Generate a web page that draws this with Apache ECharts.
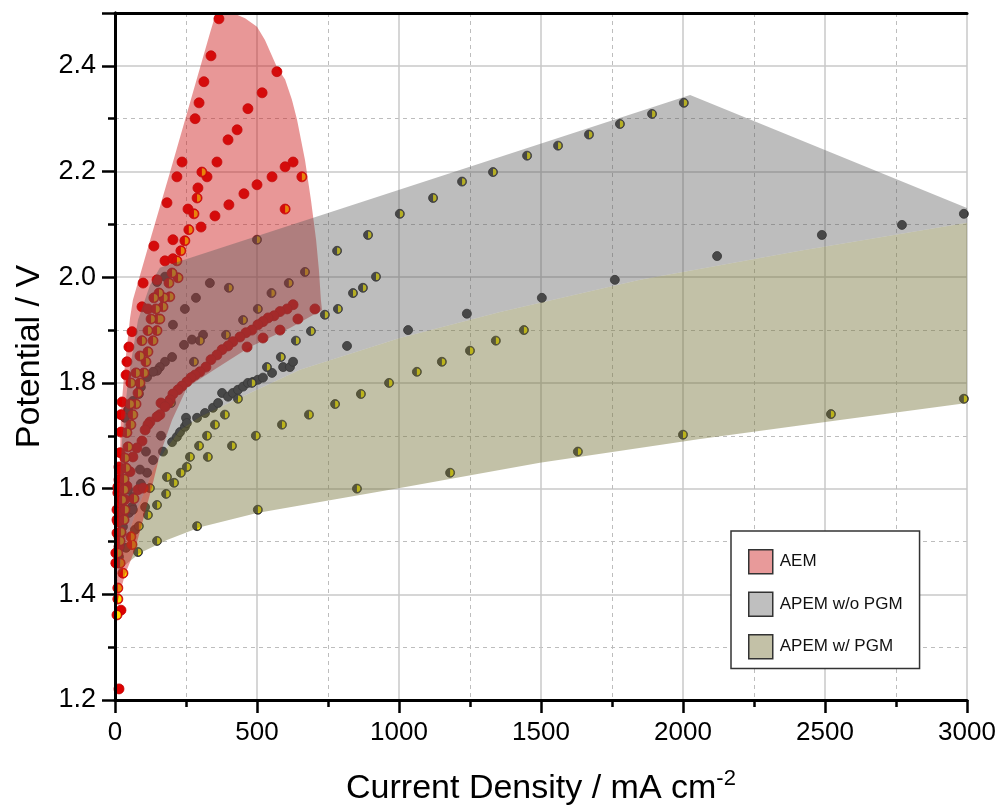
<!DOCTYPE html>
<html>
<head>
<meta charset="utf-8">
<script src="https://cdn.jsdelivr.net/npm/echarts@6/dist/echarts.min.js"></script>
<style>
  html, body { margin: 0; padding: 0; background: #fff; }
  #chart { width: 1003px; height: 812px; }
</style>
</head>
<body>
<div id="chart"></div>
<script>
// Axis ranges (current density in mA cm^-2, potential in V)
const xRange = [0, 3000];
const yRange = [1.2, 2.5];

// AEM electrolysers, solid markers [mA cm^-2, V]
const aemSolid = [
  [366,2.489],[338,2.419],[313,2.370],[296,2.330],[282,2.300],[236,2.218],[218,2.190],[183,2.141],
  [137,2.059],[99,1.989],[176,2.031],[204,2.035],[204,2.071],[257,2.129],[303,2.095],[324,2.190],
  [359,2.218],[352,2.116],[401,2.137],[398,2.260],[430,2.279],[468,2.319],[518,2.349],[570,2.389],
  [454,2.158],[500,2.175],[553,2.190],[599,2.209],[627,2.218],[292,2.169],[148,1.995],
  [95,1.944],[116,1.940],[60,1.897],[49,1.868],[42,1.840],[39,1.815],[25,1.764],[21,1.740],
  [21,1.707],[18,1.668],[14,1.641],[14,1.617],[10,1.592],[7,1.560],[7,1.541],[7,1.516],
  [3,1.478],[3,1.459],[18,1.635],[10,1.603],[18,1.573],[10,1.537],[14,1.509],[21,1.370],
  [14,1.221],[81,1.598],[99,1.601],
  [704,1.940],[644,1.921],[627,1.948],[606,1.940],[581,1.935],[560,1.927],[539,1.923],[521,1.916],
  [503,1.910],[482,1.900],[461,1.895],[440,1.887],[415,1.878],[398,1.870],[377,1.863],[359,1.853],
  [338,1.844],[320,1.830],[299,1.821],[282,1.815],[268,1.810],[253,1.802],[236,1.794],[222,1.787],
  [204,1.779],[194,1.768],[187,1.762],[162,1.762],[176,1.755],[158,1.740],[148,1.736],[123,1.726],
  [116,1.721],[106,1.711],[95,1.690],[77,1.677],[63,1.660],[53,1.632],[42,1.605],[35,1.579],
  [28,1.554],[21,1.516],[14,1.490],[581,1.900],[521,1.885],[465,1.868]
];

// AEM electrolysers, half-filled markers
const aemHalf = [
  [306,2.199],[289,2.150],[278,2.120],[260,2.090],[246,2.069],[232,2.050],[218,2.031],[201,2.008],
  [222,1.999],[190,1.989],[658,2.190],[599,2.129],[172,1.961],[193,1.963],[155,1.970],[137,1.961],
  [169,1.944],[144,1.940],[151,1.921],[127,1.921],[158,1.921],[116,1.899],[148,1.899],[134,1.880],
  [95,1.880],[116,1.859],[88,1.851],[109,1.840],[74,1.819],[102,1.819],[56,1.800],[88,1.800],
  [81,1.781],[53,1.760],[74,1.760],[63,1.740],[56,1.721],[42,1.706],[46,1.679],[35,1.658],
  [39,1.639],[32,1.618],[32,1.598],[25,1.579],[35,1.560],[32,1.541],[21,1.518],[18,1.501],
  [56,1.509],[67,1.581],[60,1.494],[10,1.391],[7,1.361],[28,1.440],[10,1.412],[18,1.459],[10,1.478]
];

// APEM without PGM catalysts, solid markers
const apemNoPgm = [
  [201,1.688],[218,1.698],[229,1.707],[246,1.717],[250,1.734],[289,1.734],[317,1.743],[345,1.753],
  [363,1.762],[377,1.781],[398,1.774],[415,1.781],[433,1.787],[451,1.793],[468,1.800],[486,1.802],
  [503,1.806],[521,1.810],[553,1.819],[592,1.830],[616,1.830],[627,1.840],[817,1.870],[1032,1.900],
  [1239,1.931],[1503,1.961],[1760,1.995],[2120,2.040],[2489,2.080],[2771,2.099],[2989,2.120],
  [253,1.724],[169,1.670],[176,2.001],[334,1.989],[285,1.961],[148,1.991],[246,1.940],[204,1.910],
  [310,1.891],[271,1.882],[243,1.872],[176,1.840],[158,1.830],[148,1.823],[113,1.811],[91,1.792],
  [84,1.779],[63,1.766],[46,1.749],[35,1.734],[162,1.700],[134,1.654],[113,1.630],[91,1.609],
  [63,1.584],[60,1.565],[49,1.554],[28,1.528],[18,1.490],[14,1.471],[109,1.670],[88,1.636],
  [46,1.598],[63,1.560],[70,1.522],[39,1.488],[106,1.565],[201,1.849],[134,1.821]
];

// APEM with PGM catalysts, half-filled markers
const apemPgm = [
  [116,1.550],[148,1.569],[180,1.590],[208,1.611],[232,1.630],[253,1.641],[264,1.660],[296,1.681],
  [324,1.700],[352,1.721],[387,1.740],[433,1.770],[482,1.800],[535,1.830],[584,1.849],[637,1.880],
  [690,1.898],[739,1.929],[785,1.940],[838,1.970],[873,1.980],[919,2.001],[782,2.050],[891,2.080],
  [1003,2.120],[1120,2.150],[1222,2.181],[1331,2.199],[1451,2.230],[1560,2.249],[1669,2.270],
  [1778,2.290],[1891,2.309],[2003,2.330],
  [148,1.501],[183,1.622],[123,1.601],[327,1.660],[412,1.681],[496,1.700],[588,1.721],[683,1.740],
  [775,1.760],[866,1.779],[965,1.800],[1063,1.821],[1151,1.840],[1250,1.861],[1341,1.880],[1440,1.900],
  [84,1.529],[81,1.480],[289,1.529],[503,1.560],[852,1.600],[1180,1.630],[1630,1.670],[2000,1.702],
  [2521,1.741],[2989,1.770],
  [500,2.071],[401,1.980],[612,1.989],[669,2.010],[551,1.970],[503,1.940],[451,1.919],[391,1.891],
  [299,1.880],[278,1.840],[197,1.762]
];

// Outlines of the shaded performance envelopes
const aemBand = [
  [0,1.378],[3.5,1.427],[7,1.503],[10.6,1.554],[17.6,1.654],[21,1.743],[35,1.834],[53,1.923],
  [63,1.957],[123,2.069],[194,2.199],[264,2.330],[334,2.461],[359,2.506],[372,2.525],[390,2.530],
  [415,2.500],[458,2.490],[500,2.474],[528,2.449],[570,2.398],[599,2.374],[623,2.336],[641,2.298],
  [669,2.222],[690,2.146],[708,2.071],[718,2.014],[725,1.957],[729,1.938],[616,1.904],[475,1.868],
  [352,1.826],[254,1.792],[201,1.730],[158,1.664],[130,1.603],[99,1.541],[70,1.484],[35,1.437],
  [10.6,1.389]
];
const apemNoPgmBand = [
  [158,2.018],[2025,2.345],[3000,2.131],[3000,2.103],[2412,2.050],[1849,1.995],[1356,1.934],
  [1003,1.885],[651,1.825],[475,1.781],[299,1.736],[229,1.711],[176,1.673],[134,1.635],[106,1.597],
  [70,1.550],[35,1.493],[10.6,1.437],[14,1.579],[25,1.692],[46,1.806],[81,1.919],[123,1.985]
];
const apemPgmBand = [
  [3.5,1.404],[10.6,1.437],[35,1.493],[70,1.550],[106,1.597],[134,1.635],[176,1.673],[229,1.711],
  [299,1.736],[475,1.781],[651,1.825],[1003,1.885],[1356,1.934],[1849,1.995],[2412,2.050],
  [3000,2.103],[3000,1.762],[2553,1.730],[2060,1.694],[1496,1.649],[1003,1.601],[500,1.554],
  [299,1.527],[183,1.503],[88,1.478],[28,1.452],[7,1.427]
];

const legendNames = ['AEM', 'APEM w/o PGM', 'APEM w/ PGM'];

const FONT = 'Liberation Sans, Arial, sans-serif';
const HALF = 'path://M0,0 A10,10 0 0 1 0,20 Z';

function band(name, verts, fill, solid, z) {
  return {
    type: 'custom', name, z, silent: true,
    itemStyle: { color: solid },
    data: verts,
    encode: { x: 0, y: 1 },
    renderItem(params, api) {
      if (params.dataIndex !== 0) return null;
      const cs = params.coordSys;
      return {
        type: 'polygon',
        shape: { points: verts.map(v => api.coord(v)) },
        style: { fill },
        clipPath: { type: 'rect', shape: { x: cs.x, y: cs.y, width: cs.width, height: cs.height } }
      };
    }
  };
}

function dots(data, size, color, border) {
  return {
    type: 'scatter', data, z: 1, silent: true,
    symbol: 'circle', symbolSize: size,
    itemStyle: { color, borderColor: border, borderWidth: 0.8, opacity: 1 }
  };
}

function halves(data, w, color) {
  return {
    type: 'scatter', data, z: 1, silent: true,
    symbol: HALF, symbolSize: [w, 2 * w], symbolOffset: [w / 2, 0],
    itemStyle: { color, opacity: 1 }
  };
}

const axisLineStyle = { color: '#000', width: 3 };

const option = {
  animation: false,
  backgroundColor: '#fff',
  grid: { left: 115, right: 36, top: 13, bottom: 112, containLabel: false, outerBoundsMode: 'none' },
  legend: {
    data: [
      { name: legendNames[0], itemStyle: { color: '#e89a9a', borderColor: '#333', borderWidth: 1.5 } },
      { name: legendNames[1], itemStyle: { color: '#bfbfbf', borderColor: '#333', borderWidth: 1.5 } },
      { name: legendNames[2], itemStyle: { color: '#c3c1a7', borderColor: '#333', borderWidth: 1.5 } }
    ],
    icon: 'rect', orient: 'vertical', left: 731, top: 531,
    itemWidth: 24, itemHeight: 24, itemGap: 17,
    padding: [18, 17, 9, 17],
    backgroundColor: '#fff', borderColor: '#333', borderWidth: 1.5,
    selectedMode: false,
    textStyle: { fontFamily: FONT, fontSize: 17, color: '#111', padding: [0, 0, 0, 2] }
  },
  xAxis: [
    {
      type: 'value', min: xRange[0], max: xRange[1], interval: 500,
      name: '{a|Current Density / mA cm}{s|-2}',
      nameLocation: 'middle', nameGap: 68,
      nameTextStyle: {
        rich: {
          a: { fontFamily: FONT, fontSize: 34, color: '#000' },
          s: { fontFamily: FONT, fontSize: 22, color: '#000', padding: [0, 0, 20, 0] }
        }
      },
      axisLine: { lineStyle: axisLineStyle },
      axisTick: { show: true, inside: false, length: 13, lineStyle: { color: '#000', width: 2.5 } },
      minorTick: { show: true, splitNumber: 2, length: 7, lineStyle: { color: '#000', width: 2.5 } },
      axisLabel: { fontFamily: FONT, fontSize: 26, color: '#000', margin: 20, formatter: v => String(v) },
      splitLine: { show: true, lineStyle: { color: '#c8c8c8', width: 1.5 } },
      minorSplitLine: { show: true, lineStyle: { color: '#bdbdbd', width: 1, type: [4, 4] } }
    },
    {
      type: 'value', position: 'top', min: xRange[0], max: xRange[1], interval: 500, z: 10,
      axisLine: { show: true, lineStyle: axisLineStyle },
      axisTick: { show: false }, axisLabel: { show: false }, splitLine: { show: false }
    }
  ],
  yAxis: [
    {
      type: 'value', min: yRange[0], max: yRange[1], interval: 0.2,
      name: 'Potential / V', nameLocation: 'middle', nameGap: 68,
      nameTextStyle: { fontFamily: FONT, fontSize: 34, color: '#000' },
      axisLine: { lineStyle: axisLineStyle },
      axisTick: { show: true, inside: false, length: 13, lineStyle: { color: '#000', width: 2.5 } },
      minorTick: { show: true, splitNumber: 2, length: 7, lineStyle: { color: '#000', width: 2.5 } },
      axisLabel: {
        fontFamily: FONT, fontSize: 27, color: '#000', margin: 19, showMaxLabel: false,
        formatter: v => v.toFixed(1)
      },
      splitLine: { show: true, lineStyle: { color: '#c8c8c8', width: 1.5 } },
      minorSplitLine: { show: true, lineStyle: { color: '#bdbdbd', width: 1, type: [4, 4] } }
    },
    {
      type: 'value', position: 'right', min: yRange[0], max: yRange[1], interval: 0.2, z: 10,
      axisLine: { show: true, lineStyle: axisLineStyle },
      axisTick: { show: false }, axisLabel: { show: false }, splitLine: { show: false }
    }
  ],
  series: [
    dots(apemNoPgm, 9, '#3c3c3c', '#222'),
    dots(apemPgm, 9, '#3c3c3c', '#222'),
    halves(apemPgm, 3.4, '#f4e800'),
    dots(aemSolid, 10, '#dd0000', '#c00000'),
    dots(aemHalf, 10, '#dd0000', '#c00000'),
    halves(aemHalf, 3.8, '#ffdc00'),
    band(legendNames[2], apemPgmBand, 'rgba(120,117,60,0.45)', '#c3c1a7', 2),
    band(legendNames[0], aemBand, 'rgba(205,25,25,0.45)', '#e89a9a', 3),
    band(legendNames[1], apemNoPgmBand, 'rgba(90,90,90,0.4)', '#bfbfbf', 4)
  ]
};

const chart = echarts.init(document.getElementById('chart'), null, { renderer: 'canvas' });
chart.setOption(option);
</script>
</body>
</html>
